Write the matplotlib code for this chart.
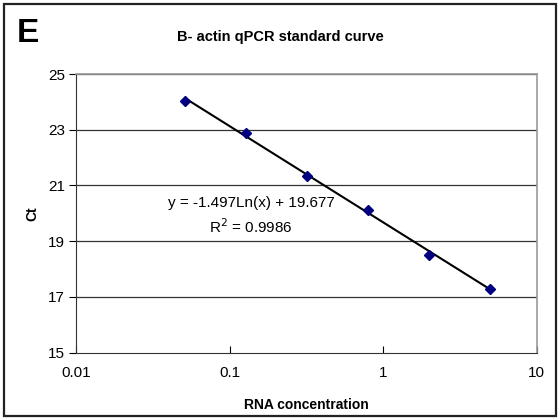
import numpy as np
import matplotlib
matplotlib.use("Agg")
import matplotlib.pyplot as plt
from matplotlib.patches import Rectangle

plt.rcParams['font.family'] = ['Liberation Sans', 'DejaVu Sans']

# RNA dilution series (2.5-fold) and measured Ct values
rna_conc = [0.0512, 0.128, 0.32, 0.8, 2.0, 5.0]
ct_values = [24.03, 22.89, 21.35, 20.12, 18.51, 17.28]

y_ticks = [15, 17, 19, 21, 23, 25]
x_ticks = [0.01, 0.1, 1, 10]
x_tick_labels = ["0.01", "0.1", "1", "10"]

equation_text = "y = -1.497Ln(x) + 19.677"
r2_text = "R$^2$ = 0.9986"

fig = plt.figure(figsize=(5.6, 4.2), dpi=100)
ax = fig.add_axes([0.1357, 0.1607, 0.8227, 0.6631])

# outer frame round the whole chart
fig.patches.append(Rectangle((0.007, 0.01), 0.986, 0.98, transform=fig.transFigure,
                             fill=False, edgecolor="#222222", linewidth=1.6))

# log trendline fitted on ln(x)
lnx = np.log(rna_conc)
slope, icpt = np.polyfit(lnx, ct_values, 1)
xs = np.logspace(np.log10(min(rna_conc)), np.log10(max(rna_conc)), 50)
ax.plot(xs, slope * np.log(xs) + icpt, color="black", linewidth=1.5, zorder=3)

ax.plot(rna_conc, ct_values, linestyle="none", marker="D", markersize=5,
        color="#000080", zorder=4)

ax.set_xscale("log")
ax.set_xlim(0.01, 10)
ax.set_ylim(15, 25)
ax.set_xticks(x_ticks)
ax.set_xticklabels(x_tick_labels)
ax.xaxis.set_minor_locator(matplotlib.ticker.NullLocator())
ax.set_yticks(y_ticks)

for yv in y_ticks[1:]:
    ax.axhline(yv, color="#333333", linewidth=0.9, zorder=1)

ax.spines['top'].set_color("#999999")
ax.spines['right'].set_color("#999999")
ax.spines['top'].set_linewidth(1.2)
ax.spines['right'].set_linewidth(1.2)
ax.spines['left'].set_color("#333333")
ax.spines['bottom'].set_color("#333333")

ax.tick_params(axis="x", direction="in", length=5, labelsize=11, pad=10)
ax.tick_params(axis="y", direction="out", length=5, labelsize=11, pad=3)

ax.set_xlabel("RNA concentration", fontsize=10, fontweight="bold", labelpad=13)
ax.set_ylabel("Ct", fontsize=10, fontweight="bold", labelpad=6)

ax.text(0.38, 0.537, equation_text, transform=ax.transAxes, ha="center",
        va="center", fontsize=11)
ax.text(0.38, 0.451, r2_text, transform=ax.transAxes, ha="center",
        va="center", fontsize=11)

fig.text(0.5, 0.912, "B- actin qPCR standard curve", ha="center", va="center",
         fontsize=10.5, fontweight="bold")
fig.text(0.03, 0.92, "E", ha="left", va="center", fontsize=24, fontweight="bold")

fig.savefig("out.png", dpi=100)
